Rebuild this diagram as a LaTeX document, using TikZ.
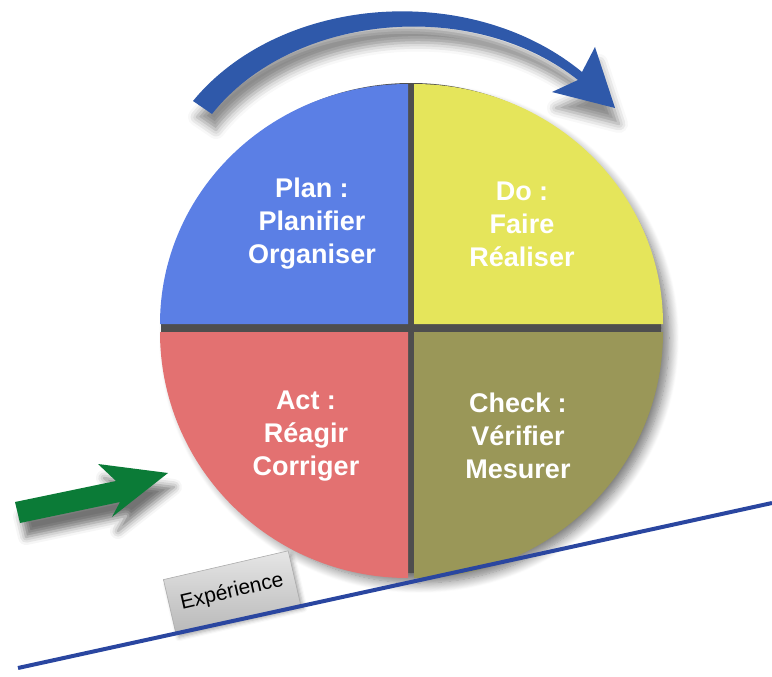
\documentclass[tikz,border=0pt]{standalone}
\usepackage{fontspec}
\setmainfont{Liberation Sans}
\usetikzlibrary{shadows.blur}
\definecolor{planc}{HTML}{5B7FE5}
\definecolor{doc}{HTML}{E5E55B}
\definecolor{actc}{HTML}{E37171}
\definecolor{checkc}{HTML}{9A9758}
\definecolor{arrowblue}{HTML}{2F59AA}
\definecolor{arrowgreen}{HTML}{0B7B37}
\definecolor{lineblue}{HTML}{2A46A0}
\definecolor{gapgray}{HTML}{4E4E4E}
\begin{document}
\begin{tikzpicture}[x=1pt,y=-1pt,
  quadlabel/.style={text=white, font=\fontsize{27}{33}\selectfont\bfseries, align=center},
  softshadow/.style={blur shadow={shadow xshift=8pt, shadow yshift=-10pt, shadow blur radius=10pt, shadow blur steps=12, shadow opacity=55}},
  expbox/.style={rotate=13, minimum width=128pt, minimum height=55pt, inner sep=0pt,
    draw=gray!65, line width=0.6pt, top color=gray!20, bottom color=gray!55,
    font=\fontsize{21}{24}\selectfont,
    blur shadow={shadow xshift=3pt, shadow yshift=-4pt, shadow blur radius=4pt, shadow opacity=35}}
]
\useasboundingbox (0,0) rectangle (772,677);
% top blue arrow
\fill[arrowblue, blur shadow={shadow xshift=4pt, shadow yshift=-16pt, shadow blur radius=9pt, shadow opacity=45}]
  (193,101) .. controls (280,-5) and (470,-20) .. (582,72)
  -- (595,47) -- (615,108) -- (552,92) -- (578,80)
  .. controls (470,-5) and (290,15) .. (212,114) -- cycle;
% green arrow
\fill[arrowgreen, blur shadow={shadow xshift=6pt, shadow yshift=-14pt, shadow blur radius=8pt, shadow opacity=55}]
  (15,502) -- (116,481) -- (98,464) -- (168,473) -- (112,517) -- (120,502) -- (20,523) -- cycle;
% circle base (gaps + shadow)
\fill[gapgray, softshadow] (411,328) ellipse [x radius=250, y radius=245];
% quadrants
\fill[planc] (408,324) -- ++(-248,0) arc[start angle=180, end angle=270, x radius=248, y radius=240] -- cycle;
\fill[doc] (414,324) -- ++(0,-240) arc[start angle=270, end angle=360, x radius=249, y radius=240] -- cycle;
\fill[checkc] (414,332) -- ++(249,0) arc[start angle=0, end angle=90, x radius=249, y radius=246] -- cycle;
\fill[actc] (408,332) -- ++(0,246) arc[start angle=90, end angle=180, x radius=248, y radius=246] -- cycle;
% labels
\node[quadlabel] (plan) at (312,224) {Plan :\\Planifier\\Organiser};
\node[quadlabel] (do) at (522,224) {Do :\\Faire\\Réaliser};
\node[quadlabel] (act) at (306,436) {Act :\\Réagir\\Corriger};
\node[quadlabel] (check) at (518,436) {Check :\\Vérifier\\Mesurer};
% experience box
\node[expbox] (exp) at (232,592) {\raisebox{-5pt}{Expérience}};
% experience line
\coordinate (l1) at (18,668);
\coordinate (l2) at (772,503);
\draw[lineblue, line width=4pt] (l1) -- (l2);
\end{tikzpicture}
\end{document}
